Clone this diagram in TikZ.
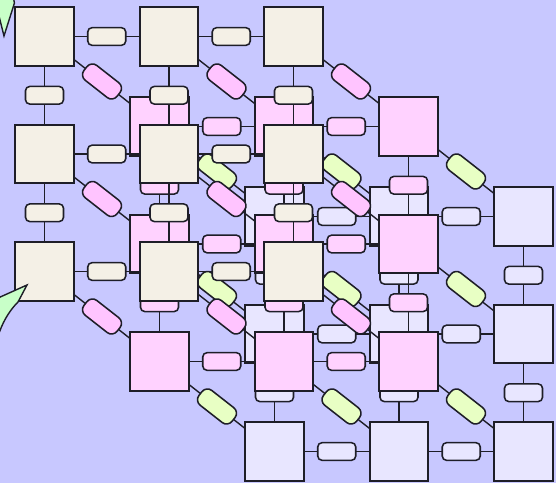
\documentclass[tikz,border=0pt]{standalone}
\usepackage{tikz}
\definecolor{sky}{HTML}{C8C8FF}
\definecolor{ink}{HTML}{1E1E28}
\definecolor{cream}{HTML}{F4F0E6}
\definecolor{blush}{HTML}{FFD2FF}
\definecolor{lilac}{HTML}{E8E6FF}
\definecolor{rose}{HTML}{FFC4FF}
\definecolor{lime}{HTML}{E8FFC4}
\definecolor{mint}{HTML}{C8FFC8}
\pgfdeclarelayer{bg}
\pgfdeclarelayer{e2}\pgfdeclarelayer{n2}\pgfdeclarelayer{d1}
\pgfdeclarelayer{e1}\pgfdeclarelayer{n1}\pgfdeclarelayer{d0}
\pgfdeclarelayer{e0}\pgfdeclarelayer{n0}
\pgfsetlayers{bg,e2,n2,d1,e1,n1,d0,e0,n0,main}

\begin{document}
\begin{tikzpicture}[
    box/.style={draw=ink, line width=1.3pt, fill=#1, minimum size=1.46cm,
                inner sep=0pt, outer sep=0pt},
    pill/.style={draw=ink, line width=1.1pt, fill=#1, rounded corners=3pt,
                 minimum width=0.95cm, minimum height=0.44cm, inner sep=0pt},
    link/.style={pill=#1, sloped, rounded corners=5pt, minimum width=1.05cm,
                 minimum height=0.47cm},
    wire/.style={draw=ink, line width=1pt},
    leaf/.style={draw=ink, line width=1pt, fill=mint}]
  \useasboundingbox (0,0) rectangle (13.9,-12.075);
  \begin{pgfonlayer}{bg}
    \fill[sky] (0,0) rectangle (13.9,-12.075);
  \end{pgfonlayer}
  % squares, one grid per sheet
  \foreach \lay/\tint in {2/lilac, 1/blush, 0/cream}{%
    \foreach \row in {0,1,2}{%
      \foreach \cl in {0,1,2}{%
        \begin{pgfonlayer}{n\lay}
          \node[box=\tint] (n\lay\row\cl)
            at (1.1125+3.1125*\cl+2.875*\lay, -0.9125-2.9375*\row-2.25*\lay) {};
        \end{pgfonlayer}}}}
  % edges inside each sheet
  \foreach \lay/\tint in {2/lilac, 1/blush, 0/cream}{%
    \foreach \row in {0,1,2}{%
      \foreach \cl/\nx in {0/1, 1/2}{%
        \begin{pgfonlayer}{e\lay}
          \draw[wire] (n\lay\row\cl) -- node[pill=\tint] (h\lay\row\cl) {}
            (n\lay\row\nx);
          \draw[wire] (n\lay\cl\row) -- node[pill=\tint] (v\lay\cl\row) {}
            (n\lay\nx\row);
        \end{pgfonlayer}}}}
  % links between sheets
  \foreach \lay/\up/\tint in {0/1/rose, 1/2/lime}{%
    \foreach \row in {0,1,2}{%
      \foreach \cl in {0,1,2}{%
        \begin{pgfonlayer}{d\lay}
          \draw[wire] (n\lay\row\cl) -- node[link=\tint] (d\lay\row\cl) {}
            (n\up\row\cl);
        \end{pgfonlayer}}}}
  % green tips at the left edge
  \draw[leaf] (0.34,0.05) -- (0.36,-0.08) -- (0.1,-0.9) -- (-0.05,-0.3)
    -- (-0.05,0.05) -- cycle;
  \draw[leaf] (-0.05,-7.45) -- (0.675,-7.125) -- (0.45,-7.55)
    .. controls (0.2,-7.8) and (0.05,-8.1) .. (-0.05,-8.4) -- cycle;
\end{tikzpicture}
\end{document}
